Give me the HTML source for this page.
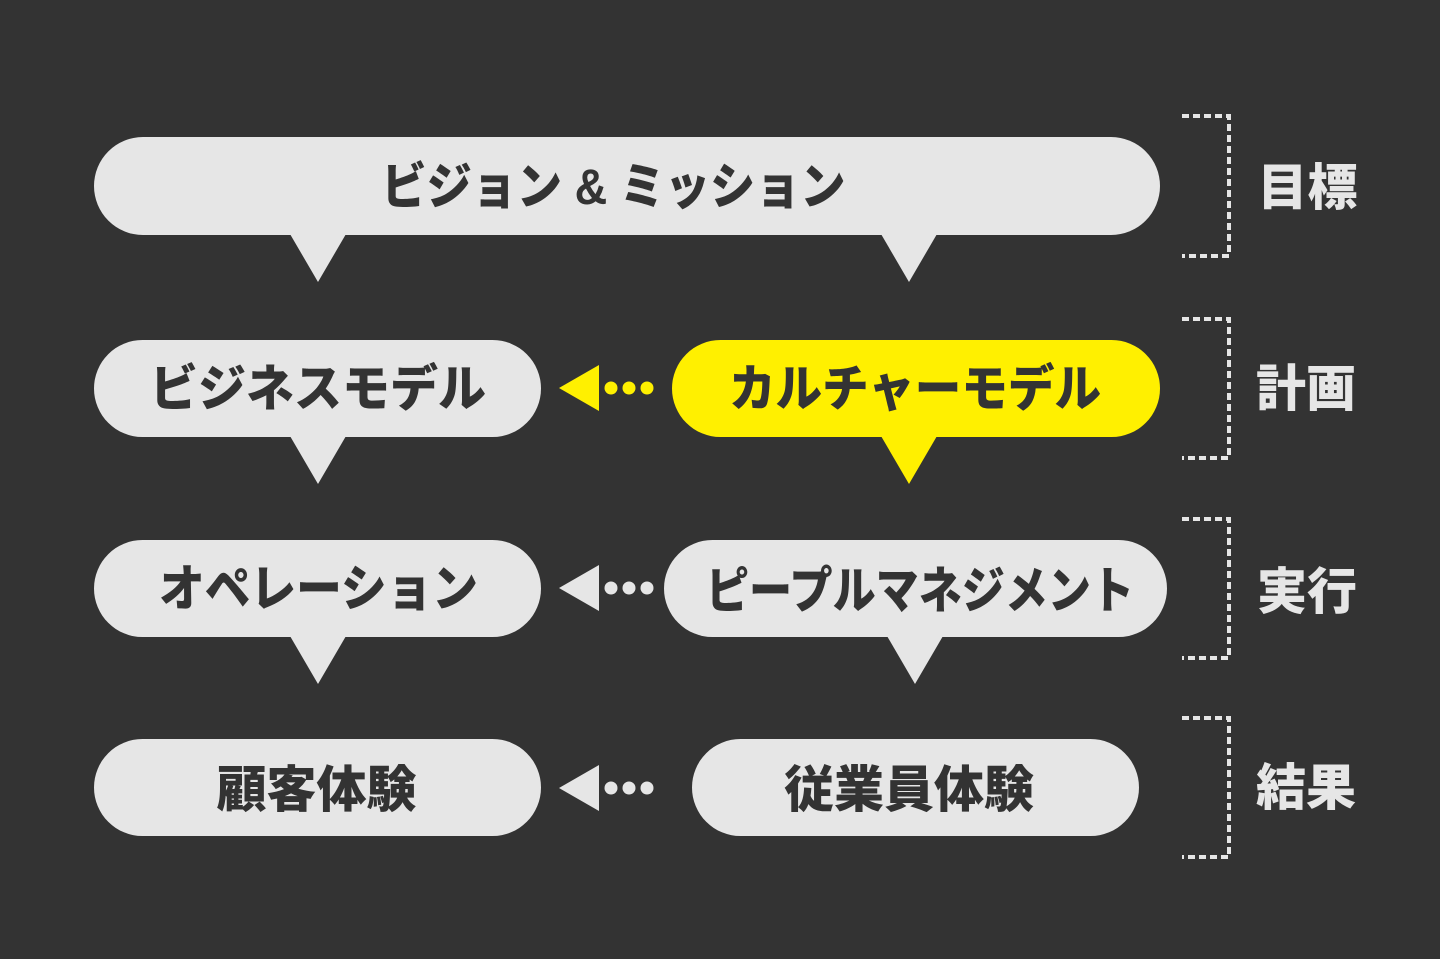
<!DOCTYPE html>
<html lang="ja">
<head>
<meta charset="utf-8">
<style>
html,body{margin:0;padding:0;background:#333333;width:1440px;height:959px;overflow:hidden}
svg{display:block}
text{font-family:"Liberation Sans","Noto Sans CJK JP",sans-serif;font-weight:900;text-anchor:middle;fill:#333333;font-size:50px}
.side{fill:#e6e6e6}
</style>
</head>
<body>
<svg width="1440" height="959" viewBox="0 0 1440 959" xmlns="http://www.w3.org/2000/svg">
<rect width="1440" height="959" fill="#333333"/>
<g fill="#e6e6e6">
<rect x="94" y="137" width="1066" height="98" rx="49"/>
<polygon points="290,234 346,234 318,282"/>
<polygon points="881,234 937,234 909,282"/>
<rect x="94" y="340" width="447" height="97" rx="48.5"/>
<polygon points="290,436 346,436 318,484"/>
<rect x="94" y="540" width="447" height="97" rx="48.5"/>
<polygon points="290,636 346,636 318,684"/>
<rect x="664" y="540" width="503" height="97" rx="48.5"/>
<polygon points="887,636 943,636 915,684"/>
<rect x="94" y="739" width="447" height="97" rx="48.5"/>
<rect x="692" y="739" width="447" height="97" rx="48.5"/>
<polygon points="559,588 599,565 599,611"/>
<circle cx="611" cy="588" r="6.5"/><circle cx="629" cy="588" r="6.5"/><circle cx="647" cy="588" r="6.5"/>
<polygon points="559,788 599,765 599,811"/>
<circle cx="611" cy="788" r="6.5"/><circle cx="629" cy="788" r="6.5"/><circle cx="647" cy="788" r="6.5"/>
</g>
<g fill="#fff000">
<rect x="672" y="340" width="488" height="97" rx="48.5"/>
<polygon points="881,436 937,436 909,484"/>
<polygon points="559,388 599,365 599,411"/>
<circle cx="611" cy="388" r="6.5"/><circle cx="629" cy="388" r="6.5"/><circle cx="647" cy="388" r="6.5"/>
</g>
<g fill="none" stroke="#e6e6e6" stroke-width="4" stroke-dasharray="7 4">
<path d="M1182 116H1229V256H1182"/>
<path d="M1182 319H1229V458H1182"/>
<path d="M1182 519H1229V658H1182"/>
<path d="M1182 718H1229V857H1182"/>
</g>
<text x="613.5" y="204" textLength="464" lengthAdjust="spacingAndGlyphs">ビジョン &amp; ミッション</text>
<text x="318" y="406" textLength="336" lengthAdjust="spacingAndGlyphs">ビジネスモデル</text>
<text x="915" y="406" textLength="372" lengthAdjust="spacingAndGlyphs">カルチャーモデル</text>
<text x="318.5" y="606" textLength="319" lengthAdjust="spacingAndGlyphs">オペレーション</text>
<text x="920" y="608" textLength="428" lengthAdjust="spacingAndGlyphs">ピープルマネジメント</text>
<text x="316.5" y="807">顧客体験</text>
<text x="909" y="807">従業員体験</text>
<text class="side" x="1307.5" y="205">目標</text>
<text class="side" x="1306" y="406">計画</text>
<text class="side" x="1307" y="609">実行</text>
<text class="side" x="1306" y="805">結果</text>
</svg>
</body>
</html>
